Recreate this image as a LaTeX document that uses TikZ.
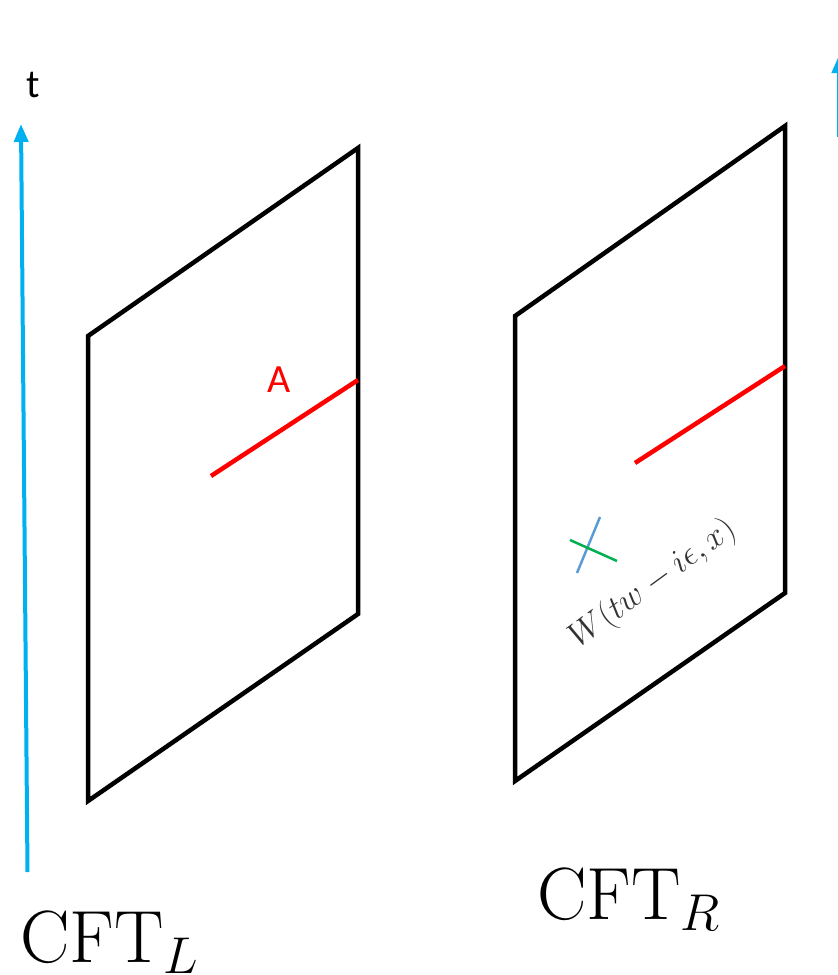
\documentclass[tikz,border=0pt]{standalone}
\usepackage{fix-cm}
\usepackage{fontspec}
\newfontfamily\calibri{Carlito}
\usetikzlibrary{arrows.meta}
\definecolor{timeblue}{HTML}{00B0F0}
\definecolor{crossblue}{HTML}{5B9BD5}
\definecolor{crossgreen}{HTML}{00B050}

\begin{document}
\begin{tikzpicture}[
				x=1pt, y=-1pt,
				frame/.style={line width=4.5pt, line join=miter, black},
				region/.style={line width=4.5pt, red},
				timearrow/.style={line width=4pt, timeblue, -{Triangle[length=18pt, width=14pt]}},
				cftlabel/.style={font=\fontsize{74}{88}\selectfont, inner sep=0pt, anchor=base west},
				sanslabel/.style={font=\calibri\fontsize{40}{48}\selectfont, inner sep=0pt, anchor=base west}
			]
			\useasboundingbox (0,0) rectangle (838,975);
			\clip (0,0) rectangle (838,975);

			% Time axes
			\coordinate (tL0) at (27.5,872);
			\coordinate (tL1) at (21,124);
			\coordinate (tR0) at (839,137);
			\coordinate (tR1) at (839,55);
			\draw[timearrow] (tL0) -- (tL1);
			\draw[timearrow] (tR0) -- (tR1);
			\node[sanslabel] (tlabel) at (26,97) {t};

			% Left slice
			\coordinate (l1) at (88,336);
			\coordinate (l2) at (358,148);
			\coordinate (l3) at (358,614);
			\coordinate (l4) at (88,801);
			\draw[frame] (l1) -- (l2) -- (l3) -- (l4) -- cycle;
			\coordinate (a0) at (211,476);
			\coordinate (a1) at (358,380);
			\draw[region] (a0) -- (a1);
			\node[sanslabel, red] (alabel) at (267,392) {A};

			% Right slice
			\coordinate (r1) at (515,316);
			\coordinate (r2) at (785,126);
			\coordinate (r3) at (785,593);
			\coordinate (r4) at (515,781);
			\draw[frame] (r1) -- (r2) -- (r3) -- (r4) -- cycle;
			\coordinate (b0) at (635,463);
			\coordinate (b1) at (785,366);
			\draw[region] (b0) -- (b1);

			% Operator insertion
			\coordinate (c1) at (600,517);
			\coordinate (c2) at (577,573);
			\coordinate (c3) at (570,540);
			\coordinate (c4) at (617,561);
			\draw[line width=2.5pt, crossblue] (c1) -- (c2);
			\draw[line width=2.5pt, crossgreen] (c3) -- (c4);
			\node[rotate=36, text=black!80, font=\fontsize{34}{40}\selectfont, inner sep=0pt] (wlabel) at (653,584) {$W(tw-i\epsilon,x)$};

			% Boundary labels
			\node[cftlabel] (cftl) at (20,962) {$\mathrm{CFT}_L$};
			\node[cftlabel] (cftr) at (537,919) {$\mathrm{CFT}_R$};

		\end{tikzpicture}
\end{document}
